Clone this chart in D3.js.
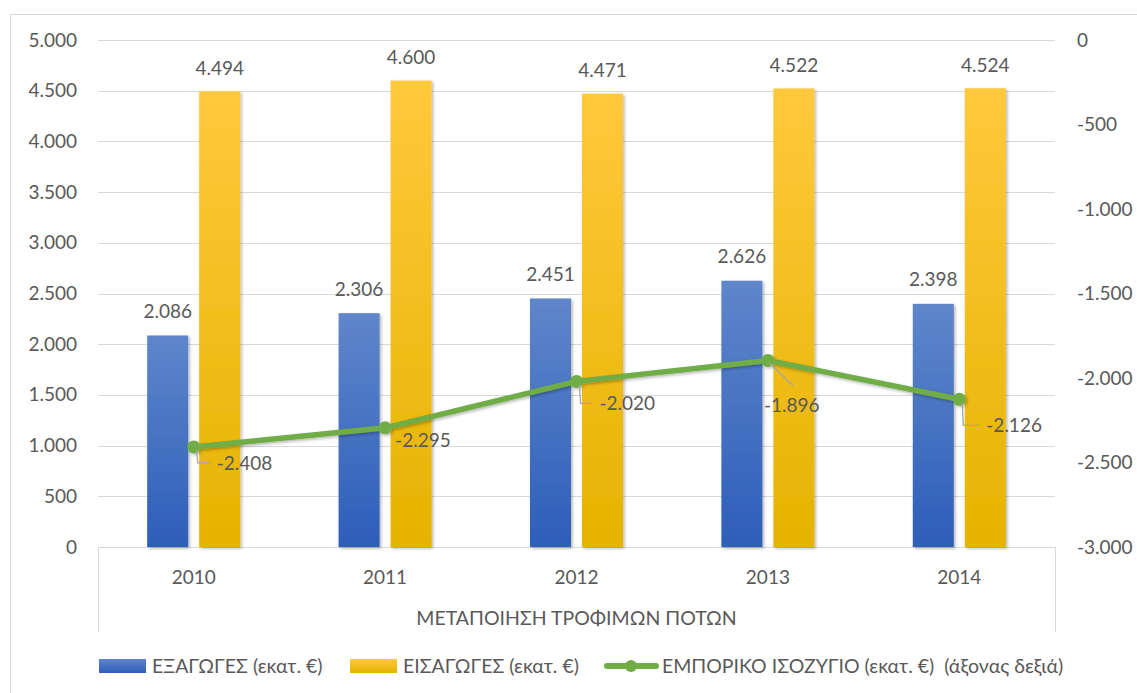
<!DOCTYPE html>
<meta charset="utf-8">
<style>
    body { margin: 0; background: #fff; }
    svg text { font-family: "Lato", "Noto Sans", sans-serif; fill: #595959; }
    .axis path, .axis line { display: none; }
    .grid line { stroke: #d9d9d9; stroke-width: 1; shape-rendering: crispEdges; }
</style>
<svg id="chart" width="1137" height="693"></svg>
<script src="https://cdn.jsdelivr.net/npm/d3@7/dist/d3.min.js"></script>
<script>

    // data
    var years = ["2010", "2011", "2012", "2013", "2014"];
    var exportsVals = [2086, 2306, 2451, 2626, 2398];
    var importsVals = [4494, 4600, 4471, 4522, 4524];
    var balanceVals = [-2408, -2295, -2020, -1896, -2126];
    var leftTicks = [0, 500, 1000, 1500, 2000, 2500, 3000, 3500, 4000, 4500, 5000];
    var rightTicks = [-3000, -2500, -2000, -1500, -1000, -500, 0];
    var groupLabel = "ΜΕΤΑΠΟΙΗΣΗ ΤΡΟΦΙΜΩΝ ΠΟΤΩΝ";
    var seriesNames = ["ΕΞΑΓΩΓΕΣ (εκατ. €)", "ΕΙΣΑΓΩΓΕΣ (εκατ. €)", "ΕΜΠΟΡΙΚΟ ΙΣΟΖΥΓΙΟ (εκατ. €)  (άξονας δεξιά)"];

    // where the line labels sit relative to their point (dx to text start, dy to text middle)
    var balanceLabelOffsets = [[23, 16], [10, 12], [23, 22], [-4, 45], [27, 26]];

    var svg = d3.select("#chart");
    var plot = {left: 98, right: 1055, top: 40, bottom: 547};

    var locale = d3.formatLocale({decimal: ",", thousands: ".", grouping: [3], currency: ["", "€"], minus: "-"});
    var fmt = locale.format(",d");

    var x = d3.scaleBand().domain(years).range([plot.left, plot.right]);
    var groupW = x.bandwidth() * 0.486;
    var x1 = d3.scaleBand().domain(["exp", "imp"]).range([-groupW / 2, groupW / 2]).paddingInner(0.2115);
    var y = d3.scaleLinear().domain([0, 5000]).range([plot.bottom, plot.top]);
    var y2 = d3.scaleLinear().domain([-3000, 0]).range([plot.bottom, plot.top]);

    var defs = svg.append("defs");
    function grad(id, c1, c2) {
        var g = defs.append("linearGradient").attr("id", id).attr("x1", 0).attr("y1", 0).attr("x2", 0).attr("y2", 1);
        g.append("stop").attr("offset", "0%").attr("stop-color", c1);
        g.append("stop").attr("offset", "100%").attr("stop-color", c2);
    }
    grad("gBlue", "#5f86cb", "#2d5eb9");
    grad("gYellow", "#ffc93c", "#e5b300");
    var sh = defs.append("filter").attr("id", "shadow").attr("x", "-20%").attr("y", "-10%").attr("width", "150%").attr("height", "130%");
    sh.append("feDropShadow").attr("dx", 1.5).attr("dy", 1.5).attr("stdDeviation", 1.6)
        .attr("flood-color", "#000").attr("flood-opacity", 0.3);

    // outer chart border
    svg.append("rect")
        .attr("x", 10.5).attr("y", 14.5).attr("width", 1160).attr("height", 700)
        .attr("fill", "none").attr("stroke", "#d9d9d9");

    // gridlines
    svg.append("g").attr("class", "grid")
        .selectAll("line").data(leftTicks).enter().append("line")
        .attr("x1", plot.left).attr("x2", plot.right)
        .attr("y1", function(d) { return Math.round(y(d)) + 0.5; })
        .attr("y2", function(d) { return Math.round(y(d)) + 0.5; });

    // category axis frame
    svg.append("g").attr("class", "grid")
        .selectAll("line").data([plot.left, plot.right]).enter().append("line")
        .attr("x1", function(d) { return d + 0.5; }).attr("x2", function(d) { return d + 0.5; })
        .attr("y1", plot.bottom).attr("y2", 632);

    // left axis
    var gY = svg.append("g").attr("class", "axis")
        .attr("transform", "translate(" + (plot.left - 21) + ",0)")
        .call(d3.axisLeft(y).tickValues(leftTicks).tickFormat(fmt).tickSize(0).tickPadding(0));
    gY.selectAll("text").style("font-size", "19px").attr("fill", "#595959");

    // right axis
    var gY2 = svg.append("g").attr("class", "axis")
        .attr("transform", "translate(" + (plot.right + 22) + ",0)")
        .call(d3.axisRight(y2).tickValues(rightTicks).tickFormat(fmt).tickSize(0).tickPadding(0));
    gY2.selectAll("text").style("font-size", "19px").attr("fill", "#595959");

    // bottom axis (years)
    var gX = svg.append("g").attr("class", "axis")
        .attr("transform", "translate(0," + plot.bottom + ")")
        .call(d3.axisBottom(x).tickSize(0).tickPadding(0));
    gX.selectAll("text").style("font-size", "19px").attr("fill", "#595959")
        .attr("y", 30).attr("dy", "0.35em");

    svg.append("text")
        .attr("x", (plot.left + plot.right) / 2).attr("y", 618).attr("dy", "0.35em")
        .attr("text-anchor", "middle").style("font-size", "19.5px")
        .text(groupLabel);

    // bars
    var rows = years.map(function(yr, i) {
        return {year: yr, exp: exportsVals[i], imp: importsVals[i], bal: balanceVals[i], i: i};
    });

    var bars = svg.append("g").selectAll("g").data(rows).enter().append("g")
        .attr("transform", function(d) { return "translate(" + (x(d.year) + x.bandwidth() / 2) + ",0)"; });

    bars.append("rect")
        .attr("x", x1("exp")).attr("width", x1.bandwidth())
        .attr("y", function(d) { return y(d.exp); })
        .attr("height", function(d) { return y(0) - y(d.exp); })
        .attr("fill", "url(#gBlue)").attr("filter", "url(#shadow)");

    bars.append("rect")
        .attr("x", x1("imp")).attr("width", x1.bandwidth())
        .attr("y", function(d) { return y(d.imp); })
        .attr("height", function(d) { return y(0) - y(d.imp); })
        .attr("fill", "url(#gYellow)").attr("filter", "url(#shadow)");

    bars.append("text")
        .attr("x", x1("exp") + x1.bandwidth() / 2)
        .attr("y", function(d) { return y(d.exp) - 24; }).attr("dy", "0.35em")
        .attr("text-anchor", "middle").style("font-size", "19px")
        .text(function(d) { return fmt(d.exp); });

    bars.append("text")
        .attr("x", x1("imp") + x1.bandwidth() / 2)
        .attr("y", function(d) { return y(d.imp) - 23; }).attr("dy", "0.35em")
        .attr("text-anchor", "middle").style("font-size", "19px")
        .text(function(d) { return fmt(d.imp); });

    // balance line (right axis)
    var cx = function(d) { return x(d.year) + x.bandwidth() / 2; };
    var cy = function(d) { return y2(d.bal); };

    var lineG = svg.append("g").attr("filter", "url(#shadow)");
    lineG.append("path").datum(rows)
        .attr("fill", "none").attr("stroke", "#70ad47").attr("stroke-width", 5.5)
        .attr("stroke-linejoin", "round")
        .attr("d", d3.line().x(cx).y(cy));
    lineG.selectAll("circle").data(rows).enter().append("circle")
        .attr("cx", cx).attr("cy", cy).attr("r", 6.5).attr("fill", "#70ad47");

    // leader lines + labels
    var lab = svg.append("g");
    lab.selectAll("path").data(rows).enter().append("path")
        .attr("fill", "none").attr("stroke", "#a6a6a6").attr("stroke-width", 1.3)
        .attr("d", function(d) {
            var o = balanceLabelOffsets[d.i], px = cx(d), py = cy(d);
            if (o[1] > 30) return "M" + (px + 2) + "," + (py + 3) + "L" + (px + 25) + "," + (py + 25);
            if (o[0] < 15) return null;
            return "M" + (px + 3) + "," + (py + 4) + "L" + (px + 4) + "," + (py + o[1]) + "L" + (px + o[0] - 7) + "," + (py + o[1]);
        });
    lab.selectAll("text").data(rows).enter().append("text")
        .attr("x", function(d) { return cx(d) + balanceLabelOffsets[d.i][0]; })
        .attr("y", function(d) { return cy(d) + balanceLabelOffsets[d.i][1]; })
        .attr("dy", "0.35em").style("font-size", "19px")
        .text(function(d) { return fmt(d.bal); });

    // legend
    var leg = svg.append("g").attr("transform", "translate(0,666)");
    leg.append("rect").attr("x", 99).attr("y", -7).attr("width", 47).attr("height", 14).attr("fill", "url(#gBlue)");
    leg.append("rect").attr("x", 350).attr("y", -7).attr("width", 47).attr("height", 14).attr("fill", "url(#gYellow)");
    leg.append("line").attr("x1", 607).attr("x2", 656).attr("y1", 0).attr("y2", 0)
        .attr("stroke", "#70ad47").attr("stroke-width", 6).attr("stroke-linecap", "round");
    leg.append("circle").attr("cx", 631).attr("cy", 0).attr("r", 6).attr("fill", "#70ad47");
    var legX = [152, 403, 662];
    leg.selectAll("text").data(seriesNames).enter().append("text")
        .attr("x", function(d, i) { return legX[i]; }).attr("y", 0).attr("dy", "0.35em")
        .style("font-size", "19.5px").style("white-space", "pre")
        .text(function(d) { return d; });

</script>
